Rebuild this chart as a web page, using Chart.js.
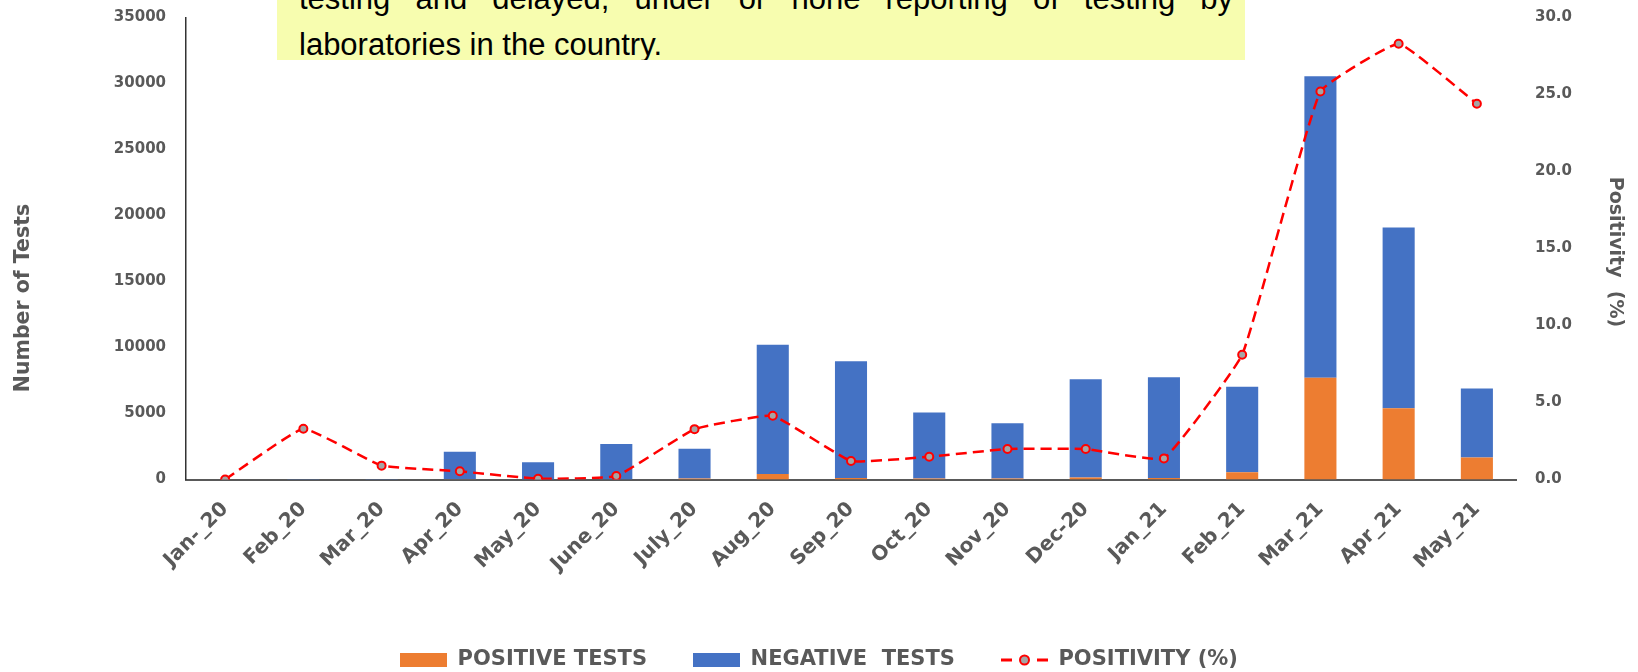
<!DOCTYPE html>
<html>
<head>
<meta charset="utf-8">
<script src="https://cdn.jsdelivr.net/npm/chart.js@4.4.0/dist/chart.umd.min.js"></script>
<style>
html,body{margin:0;padding:0;background:#fff;}
#wrap{position:relative;width:1638px;height:672px;overflow:hidden;background:#fff;}
#c{position:absolute;left:0;top:0;}
#note{position:absolute;left:277px;top:0;width:968px;height:60px;background:#f7fdaf;overflow:hidden;}
.ln{position:absolute;left:22px;width:934px;font-family:'Liberation Sans',Arial,sans-serif;font-size:31px;line-height:42px;color:#000;white-space:nowrap;}
.l1{top:-22px;text-align:justify;text-align-last:justify;white-space:normal;}
.l2{top:24px;}
</style>
</head>
<body>
<div id="wrap">
  <canvas id="c" width="1638" height="672"></canvas>
  <div id="note">
    <div class="ln l1">testing and delayed, under or none reporting of testing by</div>
    <div class="ln l2">laboratories in the country.</div>
  </div>
</div>
<script>
// ---- data ----
const categories = ['Jan-_20','Feb_20','Mar_20','Apr_20','May_20','June_20','July_20','Aug_20','Sep_20','Oct_20','Nov_20','Dec-20','Jan_21','Feb_21','Mar_21','Apr_21','May_21'];
const positiveTests = [0, 1, 0, 11, 1, 6, 76, 410, 108, 75, 84, 150, 106, 540, 7700, 5390, 1660];
const negativeTests = [0, 29, 40, 2094, 1299, 2680, 2257, 9790, 8842, 5010, 4170, 7450, 7640, 6480, 22840, 13700, 5240];
const positivity = [0, 3.3, 0.9, 0.53, 0.05, 0.22, 3.27, 4.14, 1.2, 1.48, 1.98, 1.98, 1.37, 8.1, 25.2, 28.3, 24.4];
const seriesNames = ['POSITIVE TESTS', 'NEGATIVE  TESTS', 'POSITIVITY (%)'];
const leftAxisTitle = 'Number of Tests';
const rightAxisTitle = 'Positivity  (%)';
const leftTickRange = [0, 35000, 5000];
const rightTickRange = [0, 30, 5];

const ORANGE = '#ED7D31', BLUE = '#4472C4', RED = '#FF0000', GREY = '#595959';
const FONT = '"DejaVu Sans", sans-serif';

function makeIcon(draw) {
  const c = document.createElement('canvas');
  c.width = 47; c.height = 16;
  draw(c.getContext('2d'));
  return c;
}
const icons = [
  makeIcon(g => { g.fillStyle = ORANGE; g.fillRect(0, 1, 47, 14); }),
  makeIcon(g => { g.fillStyle = BLUE; g.fillRect(0, 1, 47, 14); }),
  makeIcon(g => {
    g.strokeStyle = RED; g.lineWidth = 3;
    g.beginPath(); g.moveTo(0, 8); g.lineTo(11, 8); g.moveTo(36, 8); g.lineTo(47, 8); g.stroke();
    g.beginPath(); g.arc(23.5, 8, 4.5, 0, Math.PI * 2);
    g.fillStyle = '#A5A5A5'; g.fill(); g.lineWidth = 2; g.stroke();
  })
];

const axisTitles = {
  id: 'axisTitles',
  afterDraw(chart) {
    const ctx = chart.ctx;
    ctx.save();
    ctx.font = 'bold 20.5px ' + FONT;
    ctx.fillStyle = GREY;
    ctx.textAlign = 'center';
    ctx.textBaseline = 'middle';
    ctx.translate(24, 298);
    ctx.rotate(-Math.PI / 2);
    ctx.fillText(leftAxisTitle, 0, 0);
    ctx.restore();
    ctx.save();
    ctx.font = 'bold 19px ' + FONT;
    ctx.fillStyle = GREY;
    ctx.textAlign = 'center';
    ctx.textBaseline = 'middle';
    ctx.translate(1615, 252);
    ctx.rotate(Math.PI / 2);
    ctx.fillText(rightAxisTitle, 0, 0);
    ctx.restore();
  }
};

new Chart(document.getElementById('c'), {
  data: {
    labels: categories,
    datasets: [
      { type: 'bar', label: seriesNames[0], data: positiveTests, backgroundColor: ORANGE, yAxisID: 'y', order: 1,
        categoryPercentage: 1, barPercentage: 0.41, stack: 's' },
      { type: 'bar', label: seriesNames[1], data: negativeTests, backgroundColor: BLUE, yAxisID: 'y', order: 1,
        categoryPercentage: 1, barPercentage: 0.41, stack: 's' },
      { type: 'line', label: seriesNames[2], data: positivity, yAxisID: 'y1', order: 0,
        borderColor: RED, borderWidth: 2.5, borderDash: [11, 6], tension: 0.1, fill: false,
        pointRadius: 4, pointBorderWidth: 2, pointBackgroundColor: '#A5A5A5', pointBorderColor: RED }
    ]
  },
  options: {
    responsive: false,
    animation: false,
    devicePixelRatio: 1,
    layout: { padding: { top: 17.5, bottom: -8.5, left: 0, right: 0 } },
    plugins: {
      tooltip: { enabled: false },
      legend: {
        position: 'bottom',
        labels: {
          usePointStyle: true,
          pointStyleWidth: 47,
          padding: 46,
          color: GREY,
          font: { family: FONT, weight: 'bold', size: 21 },
          generateLabels() {
            return seriesNames.map((t, i) => ({
              text: t, pointStyle: icons[i], datasetIndex: i, hidden: false,
              fontColor: GREY, lineWidth: 0, strokeStyle: 'rgba(0,0,0,0)', fillStyle: 'rgba(0,0,0,0)'
            }));
          }
        }
      }
    },
    scales: {
      x: {
        stacked: true,
        grid: { display: false, drawTicks: false },
        border: { display: true, color: GREY, width: 2 },
        ticks: { autoSkip: false, minRotation: 45, maxRotation: 45, padding: 18, color: GREY,
          font: { family: FONT, weight: 'bold', size: 20 } },
        afterFit(s) { s.height = 124; }
      },
      y: {
        stacked: true,
        position: 'left',
        min: leftTickRange[0], max: leftTickRange[1],
        grid: { display: false, drawTicks: false },
        border: { display: true, color: '#333333', width: 1.5 },
        ticks: { stepSize: leftTickRange[2], padding: 20, color: GREY,
          callback: v => String(v),
          font: { family: FONT, weight: 'bold', size: 15 } },
        afterFit(s) { s.width = 186; s.paddingTop = 0; s.paddingBottom = 0; }
      },
      y1: {
        position: 'right',
        min: rightTickRange[0], max: rightTickRange[1],
        grid: { display: false, drawTicks: false },
        border: { display: false },
        ticks: { stepSize: rightTickRange[2], padding: 19, color: GREY,
          callback: v => Number(v).toFixed(1),
          font: { family: FONT, weight: 'bold', size: 15 } },
        afterFit(s) { s.width = 122; s.paddingTop = 0; s.paddingBottom = 0; }
      }
    }
  },
  plugins: [axisTitles]
});
</script>
</body>
</html>
